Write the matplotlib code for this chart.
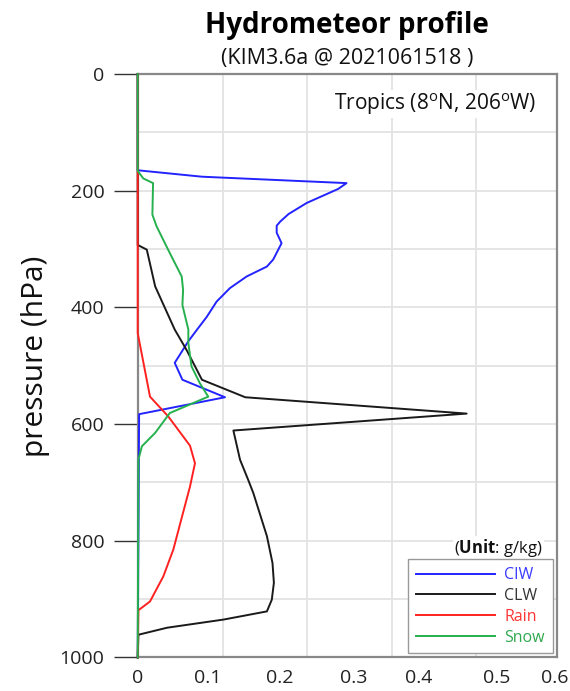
import matplotlib
matplotlib.use("Agg")
import matplotlib.pyplot as plt
from matplotlib.lines import Line2D

plt.rcParams['font.family'] = ['Open Sans', 'DejaVu Sans']
plt.rcParams['mathtext.fontset'] = 'custom'
plt.rcParams['mathtext.rm'] = 'Open Sans'
plt.rcParams['mathtext.bf'] = 'Open Sans:bold'

# ---- data (g/kg vs pressure hPa) ----
ciw_p = [0, 165, 176, 187, 197, 221, 240, 253, 260, 272, 290, 318, 330, 347, 367, 390, 416, 438, 458, 495, 524, 554, 583, 1000]
ciw_v = [0, 0, 0.092, 0.299, 0.287, 0.242, 0.216, 0.204, 0.199, 0.199, 0.206, 0.194, 0.185, 0.156, 0.132, 0.113, 0.099, 0.085, 0.0725, 0.053, 0.064, 0.125, 0.002, 0]

clw_p = [0, 293, 301, 364, 438, 473, 524, 554, 582, 611, 661, 695, 718, 792, 838, 872, 901, 921, 935, 949, 961, 1000]
clw_v = [0, 0, 0.013, 0.025, 0.053, 0.070, 0.092, 0.154, 0.471, 0.137, 0.1465, 0.158, 0.1655, 0.185, 0.193, 0.195, 0.192, 0.185, 0.123, 0.042, 0.001, 0]

rain_p = [0, 444, 553, 587, 637, 667, 707, 729, 815, 861, 904, 919, 1000]
rain_v = [0, 0, 0.0176, 0.0438, 0.0749, 0.082, 0.0749, 0.070, 0.051, 0.0367, 0.0176, 0.001, 0]

snow_p = [0, 166, 179, 187, 241, 261, 307, 347, 370, 396, 438, 461, 501, 530, 553, 581, 615, 638, 661, 1000]
snow_v = [0, 0, 0.008, 0.022, 0.021, 0.027, 0.046, 0.063, 0.065, 0.064, 0.0725, 0.0725, 0.077, 0.089, 0.101, 0.046, 0.025, 0.006, 0.001, 0]

series_names = ['CIW', 'CLW', 'Rain', 'Snow']
series_colors = ['#2323ff', '#1a1a1a', '#ff2020', '#26b04e']
legend_text_colors = ['#3a3aff', '#333333', '#ff3333', '#2fa84f']

xtick_labels = ['0', '0.1', '0.2', '0.3', '0.4', '0.5', '0.6']
xtick_pos = [0, 0.0997, 0.2038, 0.3087, 0.4018, 0.5141, 0.5976]
xgrid_pos = [0.1217, 0.2429, 0.3642, 0.4849]
ytick_vals = [0, 200, 400, 600, 800, 1000]
ygrid_vals = [100, 200, 300, 400, 500, 600, 700, 800, 900]

# ---- figure ----
fig = plt.figure(figsize=(5.7, 6.91), dpi=100)
ax = fig.add_axes([0.2416, 0.0485, 0.7351, 0.8444])

for gx in xgrid_pos:
    ax.axvline(gx, color='#e3e3e3', lw=1.3, zorder=0)
for gy in ygrid_vals:
    ax.axhline(gy, color='#e3e3e3', lw=1.3, zorder=0)

data = [(ciw_v, ciw_p), (clw_v, clw_p), (rain_v, rain_p), (snow_v, snow_p)]
for (v, p), c in zip(data, series_colors):
    ax.plot(v, p, color=c, lw=1.4, zorder=3, clip_on=False)

ax.set_xlim(0, 0.6)
ax.set_ylim(1000, 0)
ax.set_xticks(xtick_pos)
ax.set_xticklabels(xtick_labels)
ax.set_yticks(ytick_vals)
ax.set_yticklabels([str(v) for v in ytick_vals])
ax.tick_params(axis='x', length=0, pad=8, labelsize=14, labelcolor='#222222')
ax.tick_params(axis='y', length=17, width=1.0, color='#333333', pad=7,
               labelsize=14, labelcolor='#222222')

for s in ax.spines.values():
    s.set_color('#888888')
    s.set_linewidth(1.6)

# titles
fig.text(0.6091, 1 - 32.5 / 691, 'Hydrometeor profile', ha='center', va='baseline',
         fontsize=20, fontweight='bold', color='black')
fig.text(0.6091, 1 - 64 / 691, '(KIM3.6a @ 2021061518 )', ha='center', va='baseline',
         fontsize=15.5, color='#111111')

fig.text(35.5 / 570, 1 - 356 / 691, 'pressure (hPa)', rotation=90, ha='center', va='center',
         fontsize=21.5, color='#111111')

ax.text(0.9523, 1 - (110 - 74) / 583.5, r'Tropics (8$^{\mathrm{o}}$N, 206$^{\mathrm{o}}$W)',
        transform=ax.transAxes, ha='right', va='baseline', fontsize=15, color='#111111',
        zorder=4, bbox=dict(facecolor='white', edgecolor='none', pad=1))

ax.text(0.9666, 1 - (553 - 74) / 583.5, r'($\mathbf{Unit}$: g/kg)',
        transform=ax.transAxes, ha='right', va='baseline', fontsize=12, color='#111111',
        zorder=4, bbox=dict(facecolor='white', edgecolor='none', pad=1))

handles = [Line2D([0], [0], color=c, lw=1.4) for c in series_colors]
leg = ax.legend(handles, series_names, loc='lower right', bbox_to_anchor=(1, 0),
                borderaxespad=0.25, fontsize=11.5, handlelength=5.0, handletextpad=0.55,
                labelspacing=0.3, borderpad=0.5, fancybox=False, framealpha=1,
                edgecolor='#999999')
leg.get_frame().set_linewidth(1.0)
for t, c in zip(leg.get_texts(), legend_text_colors):
    t.set_color(c)
leg.set_zorder(5)

fig.savefig('out.png', dpi=100)
